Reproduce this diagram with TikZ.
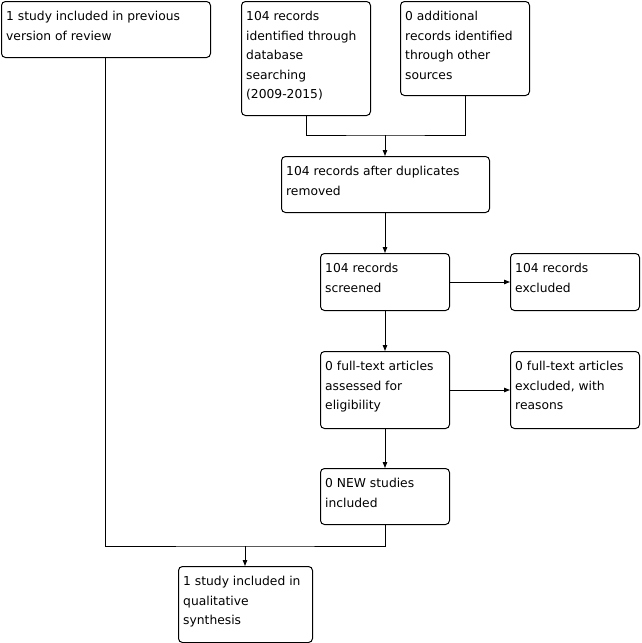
\documentclass[tikz,border=0pt]{standalone}
\usepackage{fontspec}
\setmainfont{DejaVu Sans}
\usetikzlibrary{arrows.meta}
\begin{document}
\begin{tikzpicture}[x=1pt,y=-1pt,
  flowbox/.style={draw=black, line width=1pt, rounded corners=4pt, inner sep=0pt, anchor=north west},
  txt/.style={anchor=north west, align=left, inner sep=0pt, font=\fontsize{12.3}{19.5}\selectfont, xshift=5pt, yshift=-10pt},
  conn/.style={draw=black, line width=1pt},
  arr/.style={conn, -{Triangle[length=6pt,width=4.5pt]}}
]
\useasboundingbox (0,0) rectangle (642,643);
\newcommand{\myflowbox}[6]{% name, x1,y1,x2,y2, text
  \node[flowbox, minimum width={#4-#2}, minimum height={#5-#3},
        label={[txt]north west:#6}] (#1) at (#2,#3) {};}
\myflowbox{b1}{1}{1}{210}{57}{1 study included in previous\\version of review}
\myflowbox{b2}{241}{1}{370}{115}{104 records\\identified through\\database\\searching\\(2009-2015)}
\myflowbox{b3}{400}{1}{529}{95}{0 additional\\records identified\\through other\\sources}
\myflowbox{b4}{281}{156}{489}{212}{104 records after duplicates\\removed}
\myflowbox{b5}{320}{253}{449}{310}{104 records\\screened}
\myflowbox{b6}{510}{253}{639}{310}{104 records\\excluded}
\myflowbox{b7}{320}{351}{449}{428}{0 full-text articles\\assessed for\\eligibility}
\myflowbox{b8}{510}{351}{639}{428}{0 full-text articles\\excluded, with\\reasons}
\myflowbox{b9}{320}{468}{449}{524}{0 NEW studies\\included}
\myflowbox{b10}{178}{566}{312}{642}{1 study included in\\qualitative\\synthesis}

\coordinate (j1) at (385,135);
\coordinate (j2) at (245,546);
\draw[conn] (b2.south -| 306,0) |- (j1) -| (b3.south -| 465,0);
\draw[arr] (j1) -- (b4.north -| j1);
\draw[arr] (b4.south -| 385,0) -- (b5.north -| 385,0);
\draw[arr] (b5) -- (b6);
\draw[arr] (b5.south -| 385,0) -- (b7.north -| 385,0);
\draw[arr] (b7) -- (b8);
\draw[arr] (b7.south -| 385,0) -- (b9.north -| 385,0);
\draw[conn] (b1.south -| 105.5,0) |- (j2) -| (b9.south -| 385,0);
\draw[arr] (j2) -- (b10.north -| j2);
\end{tikzpicture}
\end{document}
